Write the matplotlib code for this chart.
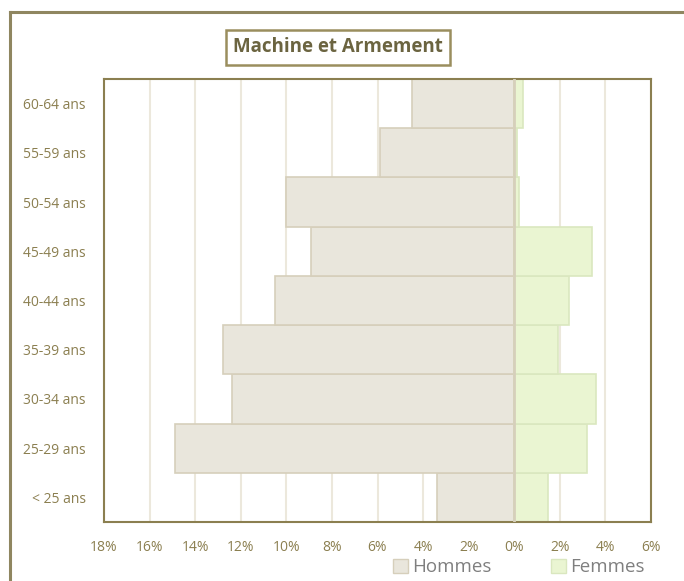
import numpy as np
import matplotlib.pyplot as plt
from matplotlib.lines import Line2D
from matplotlib.patches import Patch

# Données
categories = ['< 25 ans', '25-29 ans', '30-34 ans', '35-39 ans', '40-44 ans',
              '45-49 ans', '50-54 ans', '55-59 ans', '60-64 ans']
hommes = [3.4, 14.9, 12.4, 12.8, 10.5, 8.9, 10.0, 5.9, 4.5]
femmes = [1.5, 3.2, 3.6, 1.9, 2.4, 3.4, 0.2, 0.1, 0.4]
ticks = [-18, -16, -14, -12, -10, -8, -6, -4, -2, 0, 2, 4, 6]

olive = '#8B7F50'
c_h, e_h = '#E9E6DC', '#D6CFBB'
c_f, e_f = '#EAF5D2', '#DAE7BF'

plt.rcParams['font.family'] = ['Open Sans', 'DejaVu Sans']

fig = plt.figure(figsize=(6.84, 5.81), dpi=100)
ax = fig.add_axes([104/684, 1-522/581, (651-104)/684, (522-79)/581])

y = np.arange(len(categories))
ax.barh(y, [-v for v in hommes], height=1.0, color=c_h, edgecolor=e_h, linewidth=1.2, zorder=2)
ax.barh(y, femmes, height=1.0, color=c_f, edgecolor=e_f, linewidth=1.2, zorder=2)
ax.axvline(0, color='#D6CFBB', linewidth=2, zorder=3)

ax.set_xlim(-18, 6)
ax.set_ylim(-0.5, len(categories) - 0.5)
ax.set_xticks(ticks)
ax.set_xticklabels([f'{abs(t)}%' for t in ticks])
ax.set_yticks(y)
ax.set_yticklabels(categories)
ax.tick_params(length=0, colors=olive, labelsize=10)
ax.tick_params(axis='x', pad=13)
ax.tick_params(axis='y', pad=13)
ax.grid(axis='x', color='#ECE8DC', linewidth=1.5, zorder=0)
for s in ax.spines.values():
    s.set_color(olive)
    s.set_linewidth(1.5)

# Titre encadré
fig.text(338/684, 1-47/581, 'Machine et Armement', ha='center', va='center',
         fontsize=13.5, fontweight='bold', color='#6B6440',
         bbox=dict(boxstyle='square,pad=0.4', facecolor='white', edgecolor='#9A8E5E', linewidth=1.8))

# Cadre extérieur
fx, fy = 10/684, 1-12/581
fig.add_artist(Line2D([fx, fx], [0, fy], color='#8F8660', linewidth=2.2, transform=fig.transFigure))
fig.add_artist(Line2D([fx, 1], [fy, fy], color='#8F8660', linewidth=2.2, transform=fig.transFigure))

# Légende
handles = [Patch(facecolor=c_h, edgecolor=e_h, label='Hommes'),
           Patch(facecolor=c_f, edgecolor=e_f, label='Femmes')]
fig.legend(handles=handles, loc='center', bbox_to_anchor=(519/684, 1-567.5/581), ncol=2,
           frameon=False, fontsize=13.5, labelcolor='#7F7F7F', handlelength=0.8,
           handleheight=0.8, handletextpad=0.2, columnspacing=3.2)

plt.savefig('out.png', dpi=100)
plt.close()
